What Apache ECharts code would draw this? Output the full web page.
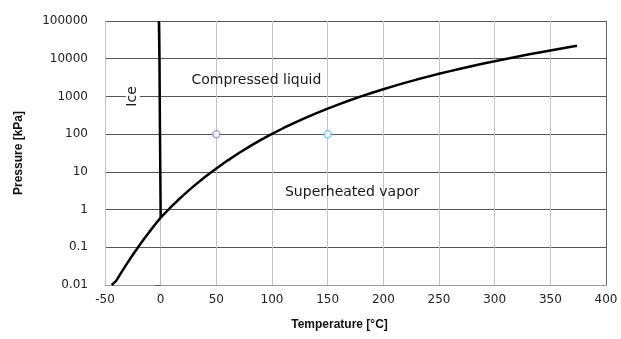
<!DOCTYPE html>
<html>
<head>
<meta charset="utf-8">
<script src="https://cdn.jsdelivr.net/npm/echarts@6/dist/echarts.min.js"></script>
<style>
  html, body { margin: 0; padding: 0; background: #fff; }
  #chart { width: 621px; height: 339px; }
</style>
</head>
<body>
<div id="chart"></div>
<script>
// saturation / sublimation line [temperature C, pressure kPa]
var satTemp = [-44, -40, -35, -30, -25, -20, -15, -10, -5, 0.01, 5, 10, 15, 20, 25, 30, 40, 50, 60, 70, 80, 90, 100,
  110, 120, 130, 140, 150, 160, 170, 180, 190, 200, 210, 220, 230, 240, 250, 260, 270, 280, 290, 300,
  310, 320, 330, 340, 350, 360, 370, 374];
var satPres = [0.0100, 0.0129, 0.0223, 0.038, 0.0633, 0.103, 0.165, 0.26, 0.402, 0.6117, 0.872, 1.23, 1.71, 2.34, 3.17, 4.25, 7.38, 12.35, 19.9, 31.2, 47.4, 70.2, 101.4,
  143.4, 198.7, 270.3, 361.5, 476.2, 618, 792, 1003, 1255, 1555, 1908, 2320, 2797, 3347, 3976, 4692, 5503, 6417, 7442, 8588,
  9865, 11284, 12858, 14601, 16529, 18666, 21044, 22064];
// ice melting line
var iceTemp = [0.01, -0.6, -1.1, -1.6];
var icePres = [0.6117, 100, 10000, 100000];
// two state points
var stateA = [50, 100];
var stateB = [150, 100];
var xTicks = [-50, 0, 50, 100, 150, 200, 250, 300, 350, 400];
var yTicks = [0.01, 0.1, 1, 10, 100, 1000, 10000, 100000];

function pairs(xs, ys) {
  return xs.map(function (x, i) { return [x, ys[i]]; });
}

var chart = echarts.init(document.getElementById('chart'));
var font = 'Liberation Sans, Arial, sans-serif';
var wide = 'DejaVu Sans, sans-serif';

var option = {
  backgroundColor: '#fff',
  animation: false,
  grid: { left: 105, right: 15, top: 21, bottom: 54 },
  xAxis: {
    type: 'value',
    min: xTicks[0],
    max: xTicks[xTicks.length - 1],
    interval: 50,
    name: 'Temperature [°C]',
    nameLocation: 'middle',
    nameGap: 34,
    nameTextStyle: { fontFamily: font, fontSize: 12, color: '#111', fontWeight: 'bold', padding: [0, 32, 0, 0] },
    axisLine: { show: true, lineStyle: { color: '#999', width: 1 } },
    axisTick: { show: false },
    axisLabel: { fontFamily: wide, fontSize: 12, color: '#222', margin: 9 },
    splitLine: { show: true, lineStyle: { color: '#c4c4c4', width: 1 } }
  },
  yAxis: [{
    type: 'log',
    logBase: 10,
    min: yTicks[0],
    max: yTicks[yTicks.length - 1],
    name: 'Pressure [kPa]',
    nameLocation: 'middle',
    nameGap: 80,
    nameTextStyle: { fontFamily: font, fontSize: 12, color: '#111', fontWeight: 'bold' },
    axisLine: { show: true, lineStyle: { color: '#c4c4c4', width: 1 } },
    axisTick: { show: true, length: 6, lineStyle: { color: '#555' } },
    axisLabel: {
      fontFamily: wide, fontSize: 12, color: '#222', margin: 17,
      formatter: function (v) {
        var r = yTicks.find(function (t) { return Math.abs(Math.log10(t) - Math.log10(v)) < 1e-6; });
        return r === undefined ? '' : String(r);
      }
    },
    splitLine: { show: true, lineStyle: { color: '#555', width: 1 } }
  }, {
    type: 'log',
    logBase: 10,
    min: yTicks[0],
    max: yTicks[yTicks.length - 1],
    position: 'right',
    axisLine: { show: true, lineStyle: { color: '#666', width: 1 } },
    axisTick: { show: false },
    axisLabel: { show: false },
    splitLine: { show: false }
  }],
  series: [
    {
      type: 'line',
      data: pairs(satTemp, satPres),
      showSymbol: false,
      lineStyle: { color: '#000', width: 2.5 },
      z: 5
    },
    {
      type: 'line',
      data: pairs(iceTemp, icePres),
      showSymbol: false,
      lineStyle: { color: '#000', width: 2.5 },
      z: 5
    },
    {
      type: 'scatter',
      data: [stateA],
      symbol: 'circle',
      symbolSize: 7,
      itemStyle: { color: '#fff', borderColor: '#a08cd0', borderWidth: 1.5 },
      z: 6
    },
    {
      type: 'scatter',
      data: [stateB],
      symbol: 'circle',
      symbolSize: 7,
      itemStyle: { color: '#fff', borderColor: '#72c4dc', borderWidth: 1.5 },
      z: 6
    }
  ]
};
chart.setOption(option);

// region labels placed in data coordinates
var labels = [
  { text: 'Compressed liquid', at: [86, 2750], rot: 0 },
  { text: 'Superheated vapor', at: [172, 2.9], rot: 0 },
  { text: 'Ice', at: [-25, 1000], rot: Math.PI / 2 }
];
chart.setOption({
  graphic: labels.map(function (l) {
    var p = chart.convertToPixel({ gridIndex: 0 }, l.at);
    return {
      type: 'text',
      x: p[0], y: p[1],
      rotation: l.rot,
      z: 10,
      style: {
        text: l.text,
        fontFamily: wide,
        fontSize: 14,
        fill: '#1a1a1a',
        align: 'center',
        verticalAlign: 'middle',
        backgroundColor: l.rot ? '#fff' : 'transparent',
        padding: l.rot ? [0, 3] : 0
      }
    };
  })
});
</script>
</body>
</html>
